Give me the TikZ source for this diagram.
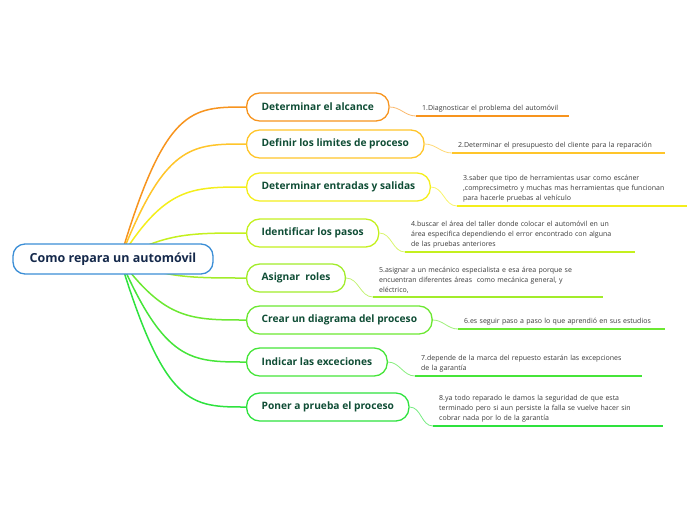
\documentclass[tikz,border=0pt]{standalone}
\usepackage{fontspec}
\setmainfont{Open Sans}
\usepackage{xcolor}
\usepackage{tikz}
\usetikzlibrary{calc,backgrounds}
\definecolor{RootBlue}{HTML}{3B8ED6}
\definecolor{RootText}{HTML}{15294B}
\definecolor{TopicText}{HTML}{0F4D35}
\definecolor{NoteText}{HTML}{3A3A3A}
\definecolor{COne}{HTML}{F7941E}
\definecolor{CTwo}{HTML}{FFC52A}
\definecolor{CThree}{HTML}{F4EE1C}
\definecolor{CFour}{HTML}{C4F01E}
\definecolor{CFive}{HTML}{A2EC2A}
\definecolor{CSix}{HTML}{6CE832}
\definecolor{CSeven}{HTML}{46E539}
\definecolor{CEight}{HTML}{2EE23E}
\tikzset{
  rootbox/.style={draw=RootBlue,line width=1.3pt,rounded corners=12pt,fill=white,
              minimum width=200pt,minimum height=30pt,inner sep=0pt,
              font=\fontsize{12.5}{14}\selectfont\bfseries,text=RootText},
  topic/.style={draw=#1,line width=1.3pt,rounded corners=13pt,fill=white,anchor=west,
              minimum height=28pt,inner xsep=15pt,inner ysep=0pt,
              font=\fontsize{10.2}{12}\selectfont\bfseries,text=TopicText},
  note/.style={anchor=south west,inner xsep=6pt,inner ysep=3.5pt,align=left,
              font=\fontsize{7}{10}\selectfont,text=NoteText},
  branch/.style={draw=#1,line width=1.5pt},
  link/.style={draw=#1!65,line width=0.8pt},
  uline/.style={draw=#1,line width=1.6pt}
}
\begin{document}
\begin{tikzpicture}[x=1pt,y=-1pt]
  \useasboundingbox (0,0) rectangle (696,520);
  \node[rootbox] (root) at (113,259) {Como repara un automóvil};
  \coordinate (hub) at (120,259);
  \node[topic=COne] (alcance) at (246,107) {Determinar el alcance};
  \node[topic=CTwo] (limites) at (246,144) {Definir los limites de proceso};
  \node[topic=CThree] (entradas) at (246,187) {Determinar entradas y salidas};
  \node[topic=CFour] (pasos) at (246,233) {Identificar los pasos};
  \node[topic=CFive] (roles) at (246,278) {Asignar~ roles};
  \node[topic=CSix] (diagrama) at (246,320) {Crear un diagrama del proceso};
  \node[topic=CSeven] (exceciones) at (246,362) {Indicar las exceciones};
  \node[topic=CEight] (prueba) at (246,407) {Poner a prueba el proceso};
  \node[note,text width=141pt] (nAlcance) at (416,116)
    {1.Diagnosticar el problema del automóvil};
  \node[note,text width=201pt] (nLimites) at (452,153)
    {2.Determinar el presupuesto del cliente para la reparación};
  \node[note,text width=218pt] (nEntradas) at (457,206)
    {3.saber que tipo de herramientas usar como escáner\\
     ,comprecsimetro y muchas mas herramientas que funcionan\\
     para hacerle pruebas al vehículo};
  \node[note,text width=218pt] (nPasos) at (405,252)
    {4.buscar el área del taller donde colocar el automóvil en un\\
     área especifica dependiendo el error encontrado con alguna\\
     de las pruebas anteriores};
  \node[note,text width=218pt] (nRoles) at (373,297)
    {5.asignar a un mecánico especialista e esa área porque se\\
     encuentran diferentes áreas~ como mecánica general, y\\
     eléctrico,};
  \node[note,text width=195pt] (nDiagrama) at (458,329)
    {6.es seguir paso a paso lo que aprendió en sus estudios};
  \node[note,text width=215pt] (nExceciones) at (415,376)
    {7.depende de la marca del repuesto estarán las excepciones\\
     de la garantía};
  \node[note,text width=218pt] (nPrueba) at (433,426)
    {8.ya todo reparado le damos la seguridad de que esta\\
     terminado pero si aun persiste la falla se vuelve hacer sin\\
     cobrar nada por lo de la garantía};
  \begin{scope}[on background layer]
    \foreach \t/\c in {alcance/COne,limites/CTwo,entradas/CThree,pasos/CFour,
        roles/CFive,diagrama/CSix,exceciones/CSeven,prueba/CEight}
      \draw[branch=\c] (hub) .. controls ([xshift=45pt]hub |- \t.west)
        and ([xshift=-55pt]\t.west) .. (\t.west);
  \end{scope}
  \foreach \t/\n/\c in {alcance/nAlcance/COne,limites/nLimites/CTwo,
      entradas/nEntradas/CThree,pasos/nPasos/CFour,roles/nRoles/CFive,
      diagrama/nDiagrama/CSix,exceciones/nExceciones/CSeven,prueba/nPrueba/CEight}{
    \draw[link=\c] (\t.east) to[out=0,in=180] (\n.south west);
    \draw[uline=\c] (\n.south west) -- (\n.south east);
  }
\end{tikzpicture}
\end{document}
